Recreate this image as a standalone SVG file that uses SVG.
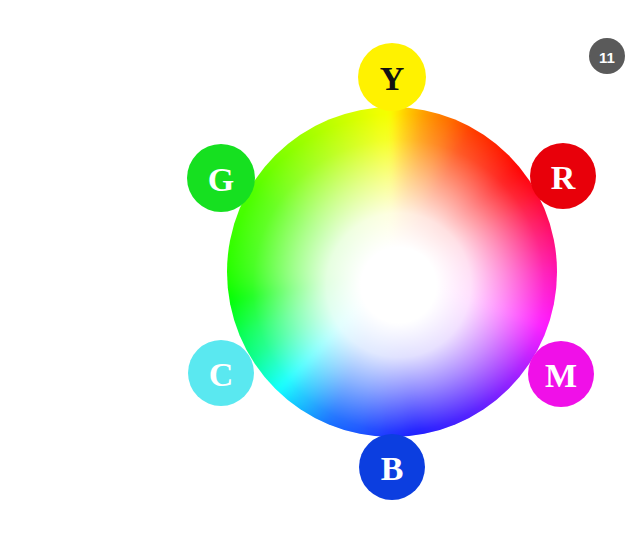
<svg xmlns="http://www.w3.org/2000/svg" xmlns:xlink="http://www.w3.org/1999/xlink" width="632" height="555" viewBox="0 0 632 555">
<style>
.lbl{font-family:"Liberation Serif","DejaVu Serif",serif;font-weight:bold;font-size:34px;text-anchor:middle;dominant-baseline:central}
.w{fill:#ffffff}
.k{fill:#111111}
</style>
<defs>
<path id="wedge" d="M0,0 L-6.9,-185 L6.9,-185 Z" fill="currentColor" stroke="currentColor" stroke-width="1.6" stroke-linejoin="round"/>
<clipPath id="disc"><circle cx="0" cy="0" r="165"/></clipPath>
<filter id="soft" filterUnits="userSpaceOnUse" x="-200" y="-200" width="400" height="400" color-interpolation-filters="sRGB"><feGaussianBlur stdDeviation="3.5"/></filter>
<radialGradient id="whiteCore" cx="0.52" cy="0.54" r="0.52">
<stop offset="0" stop-color="#fff" stop-opacity="1"/>
<stop offset="0.22" stop-color="#fff" stop-opacity="1"/>
<stop offset="0.42" stop-color="#fff" stop-opacity="0.88"/>
<stop offset="0.62" stop-color="#fff" stop-opacity="0.55"/>
<stop offset="0.85" stop-color="#fff" stop-opacity="0.15"/>
<stop offset="1" stop-color="#fff" stop-opacity="0"/>
</radialGradient>
</defs>
<rect width="632" height="555" fill="#ffffff"/>
<g id="wheel" transform="translate(392,272)">
<g clip-path="url(#disc)">
<g filter="url(#soft)">
<use xlink:href="#wedge" transform="rotate(0)" color="hsl(60,100%,50%)"/>
<use xlink:href="#wedge" transform="rotate(3)" color="hsl(54,100%,50%)"/>
<use xlink:href="#wedge" transform="rotate(6)" color="hsl(48,100%,50%)"/>
<use xlink:href="#wedge" transform="rotate(9)" color="hsl(43,100%,50%)"/>
<use xlink:href="#wedge" transform="rotate(12)" color="hsl(38,100%,50%)"/>
<use xlink:href="#wedge" transform="rotate(15)" color="hsl(34,100%,50%)"/>
<use xlink:href="#wedge" transform="rotate(18)" color="hsl(30,100%,50%)"/>
<use xlink:href="#wedge" transform="rotate(21)" color="hsl(27,100%,50%)"/>
<use xlink:href="#wedge" transform="rotate(24)" color="hsl(23,100%,50%)"/>
<use xlink:href="#wedge" transform="rotate(27)" color="hsl(19,100%,50%)"/>
<use xlink:href="#wedge" transform="rotate(30)" color="hsl(15,100%,50%)"/>
<use xlink:href="#wedge" transform="rotate(33)" color="hsl(13,100%,50%)"/>
<use xlink:href="#wedge" transform="rotate(36)" color="hsl(11,100%,50%)"/>
<use xlink:href="#wedge" transform="rotate(39)" color="hsl(9,100%,50%)"/>
<use xlink:href="#wedge" transform="rotate(42)" color="hsl(7,100%,50%)"/>
<use xlink:href="#wedge" transform="rotate(45)" color="hsl(5,100%,50%)"/>
<use xlink:href="#wedge" transform="rotate(48)" color="hsl(3,100%,50%)"/>
<use xlink:href="#wedge" transform="rotate(51)" color="hsl(1,100%,50%)"/>
<use xlink:href="#wedge" transform="rotate(54)" color="hsl(359,100%,50%)"/>
<use xlink:href="#wedge" transform="rotate(57)" color="hsl(357,100%,50%)"/>
<use xlink:href="#wedge" transform="rotate(60)" color="hsl(355,100%,50%)"/>
<use xlink:href="#wedge" transform="rotate(63)" color="hsl(352,100%,50%)"/>
<use xlink:href="#wedge" transform="rotate(66)" color="hsl(348,100%,50%)"/>
<use xlink:href="#wedge" transform="rotate(69)" color="hsl(345,100%,50%)"/>
<use xlink:href="#wedge" transform="rotate(72)" color="hsl(341,100%,50%)"/>
<use xlink:href="#wedge" transform="rotate(75)" color="hsl(338,100%,50%)"/>
<use xlink:href="#wedge" transform="rotate(78)" color="hsl(334,100%,50%)"/>
<use xlink:href="#wedge" transform="rotate(81)" color="hsl(331,100%,50%)"/>
<use xlink:href="#wedge" transform="rotate(84)" color="hsl(327,100%,50%)"/>
<use xlink:href="#wedge" transform="rotate(87)" color="hsl(324,100%,50%)"/>
<use xlink:href="#wedge" transform="rotate(90)" color="hsl(320,100%,50%)"/>
<use xlink:href="#wedge" transform="rotate(93)" color="hsl(317,100%,50%)"/>
<use xlink:href="#wedge" transform="rotate(96)" color="hsl(314,100%,50%)"/>
<use xlink:href="#wedge" transform="rotate(99)" color="hsl(311,100%,50%)"/>
<use xlink:href="#wedge" transform="rotate(102)" color="hsl(308,100%,50%)"/>
<use xlink:href="#wedge" transform="rotate(105)" color="hsl(305,100%,50%)"/>
<use xlink:href="#wedge" transform="rotate(108)" color="hsl(302,100%,50%)"/>
<use xlink:href="#wedge" transform="rotate(111)" color="hsl(299,100%,50%)"/>
<use xlink:href="#wedge" transform="rotate(114)" color="hsl(295,100%,50%)"/>
<use xlink:href="#wedge" transform="rotate(117)" color="hsl(292,100%,50%)"/>
<use xlink:href="#wedge" transform="rotate(120)" color="hsl(288,100%,50%)"/>
<use xlink:href="#wedge" transform="rotate(123)" color="hsl(284,100%,50%)"/>
<use xlink:href="#wedge" transform="rotate(126)" color="hsl(280,100%,50%)"/>
<use xlink:href="#wedge" transform="rotate(129)" color="hsl(277,100%,50%)"/>
<use xlink:href="#wedge" transform="rotate(132)" color="hsl(273,100%,50%)"/>
<use xlink:href="#wedge" transform="rotate(135)" color="hsl(270,100%,50%)"/>
<use xlink:href="#wedge" transform="rotate(138)" color="hsl(267,100%,50%)"/>
<use xlink:href="#wedge" transform="rotate(141)" color="hsl(264,100%,50%)"/>
<use xlink:href="#wedge" transform="rotate(144)" color="hsl(261,100%,50%)"/>
<use xlink:href="#wedge" transform="rotate(147)" color="hsl(258,100%,50%)"/>
<use xlink:href="#wedge" transform="rotate(150)" color="hsl(255,100%,50%)"/>
<use xlink:href="#wedge" transform="rotate(153)" color="hsl(253,100%,50%)"/>
<use xlink:href="#wedge" transform="rotate(156)" color="hsl(251,100%,50%)"/>
<use xlink:href="#wedge" transform="rotate(159)" color="hsl(249,100%,50%)"/>
<use xlink:href="#wedge" transform="rotate(162)" color="hsl(247,100%,50%)"/>
<use xlink:href="#wedge" transform="rotate(165)" color="hsl(245,100%,50%)"/>
<use xlink:href="#wedge" transform="rotate(168)" color="hsl(243,100%,50%)"/>
<use xlink:href="#wedge" transform="rotate(171)" color="hsl(241,100%,50%)"/>
<use xlink:href="#wedge" transform="rotate(174)" color="hsl(239,100%,50%)"/>
<use xlink:href="#wedge" transform="rotate(177)" color="hsl(237,100%,50%)"/>
<use xlink:href="#wedge" transform="rotate(180)" color="hsl(235,100%,50%)"/>
<use xlink:href="#wedge" transform="rotate(183)" color="hsl(233,100%,50%)"/>
<use xlink:href="#wedge" transform="rotate(186)" color="hsl(230,100%,50%)"/>
<use xlink:href="#wedge" transform="rotate(189)" color="hsl(228,100%,50%)"/>
<use xlink:href="#wedge" transform="rotate(192)" color="hsl(225,100%,50%)"/>
<use xlink:href="#wedge" transform="rotate(195)" color="hsl(223,100%,50%)"/>
<use xlink:href="#wedge" transform="rotate(198)" color="hsl(221,100%,50%)"/>
<use xlink:href="#wedge" transform="rotate(201)" color="hsl(219,100%,50%)"/>
<use xlink:href="#wedge" transform="rotate(204)" color="hsl(216,100%,50%)"/>
<use xlink:href="#wedge" transform="rotate(207)" color="hsl(211,100%,50%)"/>
<use xlink:href="#wedge" transform="rotate(210)" color="hsl(206,100%,50%)"/>
<use xlink:href="#wedge" transform="rotate(213)" color="hsl(201,100%,50%)"/>
<use xlink:href="#wedge" transform="rotate(216)" color="hsl(196,100%,50%)"/>
<use xlink:href="#wedge" transform="rotate(219)" color="hsl(191,100%,50%)"/>
<use xlink:href="#wedge" transform="rotate(222)" color="hsl(185,100%,50%)"/>
<use xlink:href="#wedge" transform="rotate(225)" color="hsl(180,100%,50%)"/>
<use xlink:href="#wedge" transform="rotate(228)" color="hsl(174,100%,50%)"/>
<use xlink:href="#wedge" transform="rotate(231)" color="hsl(168,100%,50%)"/>
<use xlink:href="#wedge" transform="rotate(234)" color="hsl(162,100%,50%)"/>
<use xlink:href="#wedge" transform="rotate(237)" color="hsl(156,100%,50%)"/>
<use xlink:href="#wedge" transform="rotate(240)" color="hsl(150,100%,50%)"/>
<use xlink:href="#wedge" transform="rotate(243)" color="hsl(146,100%,50%)"/>
<use xlink:href="#wedge" transform="rotate(246)" color="hsl(142,100%,50%)"/>
<use xlink:href="#wedge" transform="rotate(249)" color="hsl(138,100%,50%)"/>
<use xlink:href="#wedge" transform="rotate(252)" color="hsl(133,100%,50%)"/>
<use xlink:href="#wedge" transform="rotate(255)" color="hsl(129,100%,50%)"/>
<use xlink:href="#wedge" transform="rotate(258)" color="hsl(125,100%,50%)"/>
<use xlink:href="#wedge" transform="rotate(261)" color="hsl(121,100%,50%)"/>
<use xlink:href="#wedge" transform="rotate(264)" color="hsl(117,100%,50%)"/>
<use xlink:href="#wedge" transform="rotate(267)" color="hsl(114,100%,50%)"/>
<use xlink:href="#wedge" transform="rotate(270)" color="hsl(112,100%,50%)"/>
<use xlink:href="#wedge" transform="rotate(273)" color="hsl(110,100%,50%)"/>
<use xlink:href="#wedge" transform="rotate(276)" color="hsl(109,100%,50%)"/>
<use xlink:href="#wedge" transform="rotate(279)" color="hsl(108,100%,50%)"/>
<use xlink:href="#wedge" transform="rotate(282)" color="hsl(107,100%,50%)"/>
<use xlink:href="#wedge" transform="rotate(285)" color="hsl(106,100%,50%)"/>
<use xlink:href="#wedge" transform="rotate(288)" color="hsl(105,100%,50%)"/>
<use xlink:href="#wedge" transform="rotate(291)" color="hsl(104,100%,50%)"/>
<use xlink:href="#wedge" transform="rotate(294)" color="hsl(103,100%,50%)"/>
<use xlink:href="#wedge" transform="rotate(297)" color="hsl(102,100%,50%)"/>
<use xlink:href="#wedge" transform="rotate(300)" color="hsl(101,100%,50%)"/>
<use xlink:href="#wedge" transform="rotate(303)" color="hsl(99,100%,50%)"/>
<use xlink:href="#wedge" transform="rotate(306)" color="hsl(97,100%,50%)"/>
<use xlink:href="#wedge" transform="rotate(309)" color="hsl(95,100%,50%)"/>
<use xlink:href="#wedge" transform="rotate(312)" color="hsl(93,100%,50%)"/>
<use xlink:href="#wedge" transform="rotate(315)" color="hsl(91,100%,50%)"/>
<use xlink:href="#wedge" transform="rotate(318)" color="hsl(89,100%,50%)"/>
<use xlink:href="#wedge" transform="rotate(321)" color="hsl(87,100%,50%)"/>
<use xlink:href="#wedge" transform="rotate(324)" color="hsl(85,100%,50%)"/>
<use xlink:href="#wedge" transform="rotate(327)" color="hsl(83,100%,50%)"/>
<use xlink:href="#wedge" transform="rotate(330)" color="hsl(81,100%,50%)"/>
<use xlink:href="#wedge" transform="rotate(333)" color="hsl(79,100%,50%)"/>
<use xlink:href="#wedge" transform="rotate(336)" color="hsl(77,100%,50%)"/>
<use xlink:href="#wedge" transform="rotate(339)" color="hsl(75,100%,50%)"/>
<use xlink:href="#wedge" transform="rotate(342)" color="hsl(73,100%,50%)"/>
<use xlink:href="#wedge" transform="rotate(345)" color="hsl(71,100%,50%)"/>
<use xlink:href="#wedge" transform="rotate(348)" color="hsl(69,100%,50%)"/>
<use xlink:href="#wedge" transform="rotate(351)" color="hsl(67,100%,50%)"/>
<use xlink:href="#wedge" transform="rotate(354)" color="hsl(65,100%,50%)"/>
<use xlink:href="#wedge" transform="rotate(357)" color="hsl(63,100%,50%)"/>
</g>
<circle cx="0" cy="0" r="165" fill="url(#whiteCore)"/>
</g>
</g>
<g id="connectors"></g>
<g id="node-Y"><circle cx="392" cy="77" r="34" fill="#fff200"/><text class="lbl k" x="392" y="78">Y</text></g>
<g id="node-R"><circle cx="563" cy="176" r="33" fill="#e8000a"/><text class="lbl w" x="563" y="177">R</text></g>
<g id="node-G"><circle cx="221" cy="178" r="34" fill="#16e020"/><text class="lbl w" x="221" y="179">G</text></g>
<g id="node-C"><circle cx="221" cy="373" r="33" fill="#5ae8f0"/><text class="lbl w" x="221" y="374">C</text></g>
<g id="node-M"><circle cx="561" cy="374" r="33" fill="#f010e8"/><text class="lbl w" x="561" y="375">M</text></g>
<g id="node-B"><circle cx="392" cy="467" r="33" fill="#0c3ee0"/><text class="lbl w" x="392" y="468">B</text></g>
<g id="badge-11"><circle cx="607" cy="56" r="18" fill="#5a5a5a"/><text x="607" y="57" font-family="'Liberation Sans',Arial,sans-serif" font-weight="bold" font-size="15" fill="#ffffff" text-anchor="middle" dominant-baseline="central">11</text></g>
</svg>
